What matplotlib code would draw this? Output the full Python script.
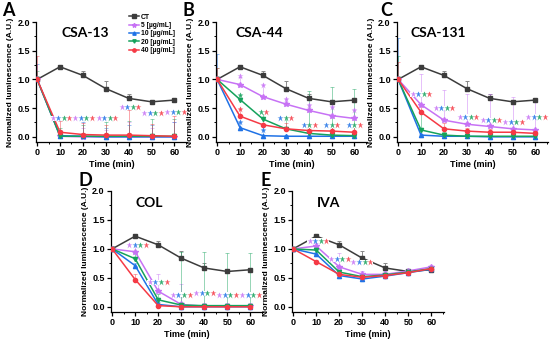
import matplotlib
matplotlib.use("Agg")
import matplotlib.pyplot as plt
from matplotlib.patches import Rectangle
from matplotlib.ticker import MultipleLocator

plt.rcParams['font.family'] = ['Liberation Sans', 'DejaVu Sans']
plt.rcParams['font.weight'] = 'bold'

time = [0, 10, 20, 30, 40, 50, 60]
labels = ["CT", "5 [µg/mL]", "10 [µg/mL]", "20 [µg/mL]", "40 [µg/mL]"]
ct = [1.0, 1.22, 1.07, 0.84, 0.67, 0.61, 0.64]
ct_err = [0.0, 0.02, 0.07, 0.13, 0.08, 0.03, 0.02]

# panel A  CSA-13
a_5 = [1.0, 0.01, 0.0, 0.0, 0.0, 0.0, 0.0]
a_10 = [1.0, 0.02, 0.01, 0.0, 0.0, 0.0, 0.0]
a_20 = [1.0, 0.01, 0.01, 0.01, 0.01, 0.01, 0.01]
a_40 = [1.0, 0.08, 0.04, 0.03, 0.03, 0.02, 0.01]
a_err = [[0.0, 0.1, 0.15, 0.12, 0.25, 0.15, 0.25],
         [0.27, 0.1, 0.25, 0.15, 0.2, 0.2, 0.25],
         [0.15, 0.15, 0.2, 0.25, 0.27, 0.3, 0.3],
         [0.4, 0.2, 0.2, 0.18, 0.44, 0.2, 0.35]]
a_stars = [(10.5, 0.32, 'vbgr'), (20.3, 0.32, 'vbgr'), (30.5, 0.33, 'vbgr'),
           (40.5, 0.52, 'vbgr'), (50.5, 0.41, 'vbgr'), (60.5, 0.43, 'vbgr')]

# panel B  CSA-44
b_5 = [1.0, 0.91, 0.70, 0.57, 0.46, 0.37, 0.32]
b_10 = [1.0, 0.16, 0.02, 0.01, 0.01, 0.01, 0.01]
b_20 = [1.0, 0.65, 0.31, 0.14, 0.06, 0.03, 0.02]
b_40 = [1.0, 0.36, 0.21, 0.14, 0.11, 0.10, 0.08]
b_err = [[0.0, 0.14, 0.2, 0.09, 0.09, 0.15, 0.14],
         [0.45, 0.1, 0.1, 0.02, 0.02, 0.02, 0.02],
         [0.2, 0.08, 0.14, 0.2, 0.74, 0.83, 0.81],
         [0.2, 0.12, 0.1, 0.1, 0.1, 0.1, 0.1]]
b_stars = [(20.3, 0.44, 'gr'), (30, 0.33, 'bgr'), (40.3, 0.2, 'bgr'),
           (50, 0.2, 'bgr'), (60, 0.2, 'bgr'),
           (10, 1.06, 'v'), (10, 0.73, 'g'), (10, 0.48, 'r'), (10, 0.26, 'b'),
           (20, 0.9, 'v'), (20, 0.12, 'b'), (30, 0.66, 'v'), (40, 0.55, 'v'),
           (50, 0.52, 'v'), (60, 0.47, 'v')]

# panel C  CSA-131
c_5 = [1.0, 0.56, 0.29, 0.22, 0.18, 0.14, 0.12]
c_10 = [1.0, 0.03, 0.01, 0.01, 0.0, 0.0, 0.0]
c_20 = [1.0, 0.12, 0.03, 0.01, 0.01, 0.01, 0.01]
c_40 = [1.0, 0.43, 0.14, 0.10, 0.08, 0.08, 0.06]
c_err = [[0.0, 0.54, 0.52, 0.52, 0.57, 0.55, 0.5],
         [0.72, 0.02, 0.02, 0.02, 0.02, 0.02, 0.02],
         [0.4, 0.3, 0.05, 0.05, 0.05, 0.05, 0.05],
         [0.3, 0.1, 0.1, 0.05, 0.05, 0.05, 0.05]]
c_stars = [(10, 0.74, 'vbgr'), (20, 0.50, 'vbgr'), (30.5, 0.35, 'vbgr'),
           (40.5, 0.29, 'vbgr'), (50.5, 0.26, 'vbgr'), (60.5, 0.35, 'vbgr')]

# panel D  COL
d_5 = [1.0, 0.95, 0.27, 0.04, 0.01, 0.01, 0.01]
d_10 = [1.0, 0.71, 0.04, 0.0, 0.0, 0.0, 0.0]
d_20 = [1.0, 0.83, 0.12, 0.03, 0.02, 0.02, 0.02]
d_40 = [1.0, 0.47, 0.02, 0.0, 0.0, 0.0, 0.0]
d_err = [[0.05, 0.1, 0.3, 0.35, 0.05, 0.05, 0.05],
         [0.02, 0.05, 0.05, 0.02, 0.02, 0.02, 0.02],
         [0.02, 0.1, 0.1, 0.92, 0.93, 0.91, 0.91],
         [0.05, 0.1, 0.05, 0.02, 0.02, 0.02, 0.02]]
d_stars = [(11, 1.07, 'vbgr'), (20, 0.42, 'vbgr'), (30, 0.21, 'vbgr'),
           (40, 0.23, 'vbgr'), (50, 0.21, 'vbgr'), (60, 0.21, 'vbgr')]

# panel E  IVA
e_5 = [1.0, 1.05, 0.69, 0.56, 0.56, 0.62, 0.69]
e_10 = [1.0, 0.91, 0.54, 0.48, 0.53, 0.59, 0.65]
e_20 = [1.0, 0.98, 0.60, 0.52, 0.55, 0.60, 0.66]
e_40 = [1.0, 0.78, 0.56, 0.51, 0.54, 0.59, 0.66]
e_err = [[0.0, 0.05, 0.24, 0.05, 0.05, 0.03, 0.03],
         [0.03, 0.03, 0.03, 0.03, 0.03, 0.03, 0.03],
         [0.03, 0.03, 0.03, 0.03, 0.03, 0.03, 0.03],
         [0.03, 0.03, 0.03, 0.03, 0.03, 0.03, 0.03]]
e_stars = [(10.8, 1.14, 'vbgr'), (20.2, 0.82, 'vbgr'), (29.8, 0.77, 'vbgr')]

colors = {'k': '#3c3c3c', 'v': '#c772f5', 'b': '#1f72e6', 'g': '#15a25c', 'r': '#f53a45'}
keys = ['v', 'b', 'g', 'r']
markers = {'k': 's', 'v': '*', 'b': '^', 'g': 'v', 'r': 'o'}

W, H = 550, 339
fig = plt.figure(figsize=(5.5, 3.39), dpi=100)


def px_axes(left, top, width, height):
    return fig.add_axes([left / W, 1 - (top + height) / H, width / W, height / H])


def draw_panel(ax, series, errs, stars, title, tx):
    lines = []
    ln, = ax.plot(time, ct, color=colors['k'], marker='s', ms=3, lw=1.1, zorder=3)
    ax.errorbar(time, ct, yerr=[[0] * 7, ct_err], fmt='none', ecolor='#8a8a8a',
                elinewidth=0.7, capsize=1.2, capthick=0.7, zorder=2)
    lines.append(ln)
    for k, vals, err in zip(keys, series, errs):
        ax.errorbar(time, vals, yerr=[[0] * 7, err], fmt='none', ecolor=colors[k],
                    alpha=0.45, elinewidth=0.7, capsize=1.2, capthick=0.7, zorder=2)
        ln, = ax.plot(time, vals, color=colors[k], marker=markers[k],
                      ms=4 if k == 'v' else 3, lw=1.1, zorder=3)
        lines.append(ln)
    step = 2.4
    for x, y, cs in stars:
        n = len(cs)
        xs = [x + (i - (n - 1) / 2) * step for i in range(n)]
        if n > 1:
            ax.add_patch(Rectangle((xs[0] - 1.1, y - 0.04), xs[-1] - xs[0] + 2.2, 0.08,
                                   facecolor='white', edgecolor='none', zorder=4))
        for xi, c in zip(xs, cs):
            ax.plot(xi, y, marker='*', ms=4.5, color=colors[c], alpha=0.85,
                    mec='none', zorder=5, clip_on=False)
    ax.set_xlim(-0.5, 65.5)
    ax.set_ylim(-0.09, 2.0)
    ax.set_xticks(time)
    ax.set_yticks([0.0, 0.5, 1.0, 1.5, 2.0])
    ax.xaxis.set_minor_locator(MultipleLocator(5))
    ax.yaxis.set_minor_locator(MultipleLocator(0.25))
    ax.tick_params(which='major', direction='out', length=3, width=0.9, labelsize=6.5, pad=1.5)
    ax.tick_params(which='minor', direction='out', length=1.5, width=0.7)
    for lab in ax.get_xticklabels() + ax.get_yticklabels():
        lab.set_fontweight('bold')
    for s in ['top', 'right']:
        ax.spines[s].set_visible(False)
    for s in ['left', 'bottom']:
        ax.spines[s].set_linewidth(0.9)
    ax.set_xlabel("Time (min)", fontsize=6.5, fontweight='bold', labelpad=2)
    ax.set_ylabel("Normalized luminescence (A.U.)", fontsize=6.0, fontweight='bold', labelpad=2)
    ax.text(tx, 1.8, title, fontsize=10, fontweight='bold', ha='center', va='center',
            family=['Lato', 'DejaVu Sans'])
    return lines


axA = px_axes(36, 22, 151, 120)
axB = px_axes(216, 22, 151, 120)
axC = px_axes(397, 22, 151, 120)
axD = px_axes(111, 191, 152, 121)
axE = px_axes(292, 191, 152, 121)

handles = draw_panel(axA, [a_5, a_10, a_20, a_40], a_err, a_stars, "CSA-13", 21)
draw_panel(axB, [b_5, b_10, b_20, b_40], b_err, b_stars, "CSA-44", 18.4)
draw_panel(axC, [c_5, c_10, c_20, c_40], c_err, c_stars, "CSA-131", 17.5)
draw_panel(axD, [d_5, d_10, d_20, d_40], d_err, d_stars, "COL", 16)
draw_panel(axE, [e_5, e_10, e_20, e_40], e_err, e_stars, "IVA", 15.2)

fig.legend(handles, labels, loc='upper left', bbox_to_anchor=(128 / W, 1 - 13 / H),
           fontsize=4.9, frameon=False, handlelength=1.5, labelspacing=0.2,
           handletextpad=0.3, borderpad=0.1, borderaxespad=0, markerscale=0.8)

for letter, x, y in [("A", 2, 16), ("B", 183, 16), ("C", 380, 16), ("D", 78, 186), ("E", 260, 186)]:
    fig.text(x / W, 1 - y / H, letter, fontsize=13, fontweight='bold', ha='left', va='baseline',
             family=['Lato', 'DejaVu Sans'])

fig.savefig("out.png", dpi=100)
